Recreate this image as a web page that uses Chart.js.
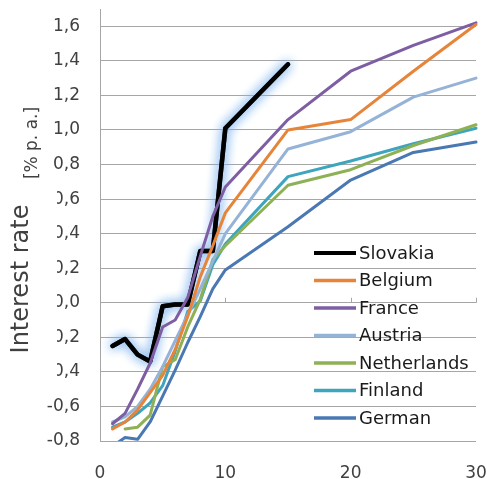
<!DOCTYPE html>
<html>
<head>
<meta charset="utf-8">
<script src="https://cdn.jsdelivr.net/npm/chart.js@4.4.1/dist/chart.umd.min.js"></script>
<style>
    html, body { margin: 0; padding: 0; background: #fff; }
    #wrap { width: 487px; height: 479px; }
</style>
</head>
<body>
<div id="wrap"><canvas id="chart"></canvas></div>
<script>
// maturity in years
const years = [1, 2, 3, 4, 5, 6, 7, 8, 9, 10, 15, 20, 25, 30];
const slovakia = [-0.25, -0.21, -0.30, -0.34, -0.02, -0.01, -0.01, 0.30, 0.30, 1.01, 1.38];
const belgium = [-0.73, -0.69, -0.62, -0.52, -0.42, -0.27, -0.08, 0.15, 0.33, 0.52, 1.00, 1.06, 1.34, 1.61];
const france = [-0.70, -0.64, -0.50, -0.35, -0.14, -0.10, 0.03, 0.27, 0.50, 0.67, 1.06, 1.34, 1.49, 1.62];
const austria = [-0.69, -0.66, -0.60, -0.50, -0.37, -0.22, -0.07, 0.08, 0.24, 0.40, 0.89, 0.99, 1.19, 1.30];
const netherlands = [null, -0.73, -0.72, -0.65, -0.37, -0.33, -0.14, 0.02, 0.25, 0.33, 0.68, 0.77, 0.91, 1.03];
const finland = [-0.72, -0.69, -0.64, -0.58, -0.48, -0.28, -0.05, 0.01, 0.22, 0.34, 0.73, 0.82, 0.92, 1.01];
const german = [-0.83, -0.78, -0.79, -0.69, -0.54, -0.39, -0.23, -0.08, 0.08, 0.19, 0.44, 0.71, 0.87, 0.93];

const seriesNames = ['Slovakia', 'Belgium', 'France', 'Austria', 'Netherlands', 'Finland', 'German'];
const yTicks = [-0.8, -0.6, -0.4, -0.2, 0, 0.2, 0.4, 0.6, 0.8, 1.0, 1.2, 1.4, 1.6];
const xTickMarks = [10, 20, 30];

const FONT = '"DejaVu Sans", sans-serif';

function toPoints(values){
    return values.map((v, i) => ({ x: years[i], y: v }));
}

function makeSet(label, values, color, width, order){
    return {
        label: label,
        data: toPoints(values),
        borderColor: color,
        backgroundColor: color,
        borderWidth: width,
        pointRadius: 0,
        tension: 0,
        borderJoinStyle: 'round',
        borderCapStyle: 'round',
        clip: { left: 0, top: 5, right: 6, bottom: 0 },
        order: order
    };
}

// glow round the Slovak curve (drawn twice so it is strong enough)
const glowPlugin = {
    id: 'glow',
    beforeDatasetDraw(chart, args){
        if(args.index !== 0) return;
        const ctx = chart.ctx;
        ctx.save();
        ctx.shadowColor = 'rgba(125,178,236,1)';
        ctx.shadowBlur = 11;
    },
    afterDatasetDraw(chart, args){
        if(args.index !== 0) return;
        args.meta.controller.draw();
        chart.ctx.restore();
    }
};

// small ticks of the horizontal axis, which crosses at 0
const axisMarks = {
    id: 'axisMarks',
    beforeDatasetsDraw(chart){
        const ctx = chart.ctx;
        const y0 = chart.scales.y.getPixelForValue(0);
        ctx.save();
        ctx.strokeStyle = '#a6a6a6';
        ctx.lineWidth = 1;
        xTickMarks.forEach(v => {
            const x = Math.round(chart.scales.x.getPixelForValue(v)) + 0.5;
            ctx.beginPath();
            ctx.moveTo(x, y0 - 5);
            ctx.lineTo(x, y0);
            ctx.stroke();
        });
        ctx.restore();
    }
};

const legendInside = {
    id: 'legendInside',
    afterDraw(chart){
        const ctx = chart.ctx;
        ctx.save();
        ctx.font = '18px ' + FONT;
        ctx.textBaseline = 'middle';
        ctx.fillStyle = '#1a1a1a';
        chart.data.datasets.forEach((ds, i) => {
            const y = 253 + i * 27.5;
            ctx.strokeStyle = ds.borderColor;
            ctx.lineWidth = i === 0 ? 4 : 3.5;
            ctx.beginPath();
            ctx.moveTo(314, y);
            ctx.lineTo(356, y);
            ctx.stroke();
            ctx.fillText(ds.label, 359, y + 1);
        });
        ctx.restore();
    }
};

const yTitle = {
    id: 'yTitle',
    afterDraw(chart){
        const ctx = chart.ctx;
        ctx.save();
        // the title box hides the left part of a few labels
        ctx.fillStyle = '#fff';
        ctx.fillRect(0, 186, 57, 206);
        ctx.fillStyle = '#404040';
        ctx.textAlign = 'center';
        ctx.textBaseline = 'middle';
        ctx.translate(22, 279);
        ctx.rotate(-Math.PI / 2);
        ctx.font = '24px ' + FONT;
        ctx.fillText('Interest rate', 0, 0);
        ctx.restore();

        ctx.save();
        ctx.fillStyle = '#404040';
        ctx.textAlign = 'center';
        ctx.textBaseline = 'middle';
        ctx.translate(33, 143);
        ctx.rotate(-Math.PI / 2);
        ctx.font = '17px ' + FONT;
        ctx.fillText('[% p. a.]', 0, 0);
        ctx.restore();
    }
};

const colors = ['#000000', '#e6853a', '#7e5ea3', '#95b3d7', '#8fb155', '#3fa4bd', '#4a78b3'];
const allValues = [slovakia, belgium, france, austria, netherlands, finland, german];

const datasets = seriesNames.map((name, i) =>
    makeSet(name, allValues[i], colors[i], i === 0 ? 4.5 : 3, i === 0 ? 1 : 0)
);

new Chart(document.getElementById('chart'), {
    type: 'line',
    data: { datasets: datasets },
    options: {
        responsive: true,
        maintainAspectRatio: false,
        animation: false,
        layout: { padding: { top: 9, right: 11, left: 0, bottom: 0 } },
        plugins: {
            legend: { display: false },
            tooltip: { enabled: false }
        },
        scales: {
            x: {
                type: 'linear',
                min: 0,
                max: 30,
                grid: { display: false },
                border: { display: false },
                ticks: {
                    stepSize: 10,
                    padding: 14,
                    color: '#404040',
                    font: { family: FONT, size: 17 }
                },
                afterFit(scale){
                    scale.height = 38;
                    scale.paddingLeft = 0;
                    scale.paddingRight = 0;
                }
            },
            y: {
                min: -0.8,
                max: 1.7,
                afterBuildTicks(axis){
                    axis.ticks = yTicks.map(v => ({ value: v }));
                },
                grid: { color: '#a6a6a6', lineWidth: 1, drawTicks: false },
                border: { display: true, color: '#a6a6a6', width: 1 },
                ticks: {
                    padding: 20,
                    color: '#404040',
                    font: { family: FONT, size: 17 },
                    callback: v => v.toFixed(1).replace('.', ',')
                },
                afterFit(scale){
                    scale.width = 100;
                    scale.paddingTop = 0;
                    scale.paddingBottom = 0;
                }
            }
        }
    },
    plugins: [glowPlugin, axisMarks, legendInside, yTitle]
});
</script>
</body>
</html>
